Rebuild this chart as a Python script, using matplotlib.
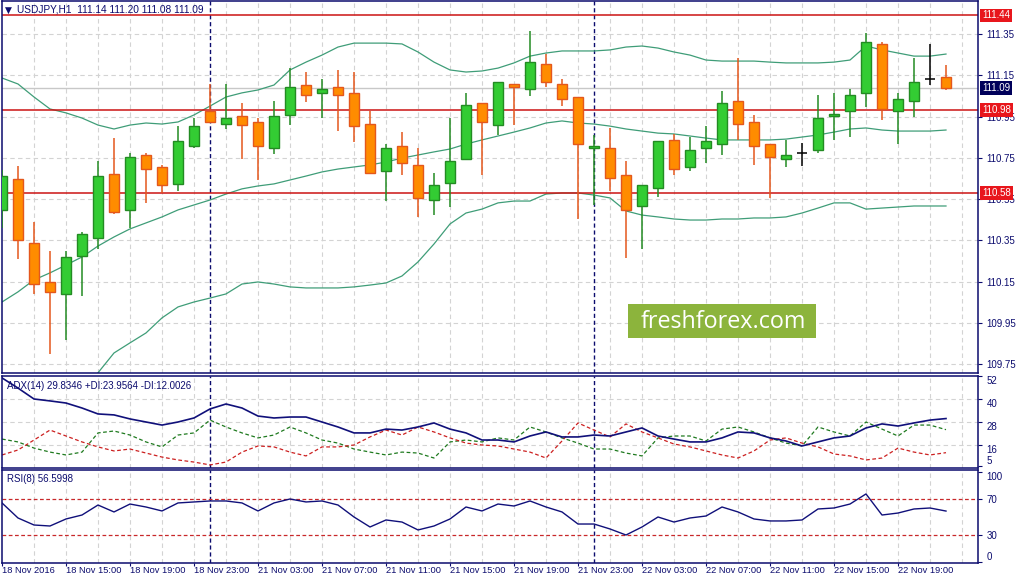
import numpy as np
import matplotlib
matplotlib.use('Agg')
import matplotlib.pyplot as plt
import matplotlib.transforms as mtransforms
from matplotlib.patches import Rectangle

plt.rcParams['font.family'] = ['Liberation Sans', 'DejaVu Sans']

# USDJPY H1, 18 Nov 2016 11:00 .. 22 Nov 2016 22:00
opens = [110.50, 110.65, 110.34, 110.15, 110.09, 110.275, 110.36, 110.67, 110.50, 110.765,
         110.705, 110.625, 110.81, 110.975, 110.915, 110.955, 110.925, 110.80, 110.96, 111.105,
         111.065, 111.095, 111.065, 110.915, 110.685, 110.81, 110.715, 110.545, 110.63, 110.745,
         111.015, 110.91, 111.11, 111.085, 111.205, 111.11, 111.045, 110.80, 110.80, 110.665,
         110.515, 110.605, 110.835, 110.705, 110.80, 110.815, 111.025, 110.925, 110.815, 110.745,
         110.775, 110.79, 110.955, 110.975, 111.065, 111.30, 110.975, 111.025, 111.13, 111.14]
highs = [110.69, 110.71, 110.44, 110.30, 110.30, 110.39, 110.735, 110.845, 110.775, 110.775,
         110.715, 110.905, 110.945, 111.11, 111.11, 111.015, 110.945, 111.025, 111.185, 111.165,
         111.13, 111.175, 111.165, 110.975, 110.815, 110.875, 110.80, 110.675, 110.945, 111.065,
         111.015, 111.12, 111.11, 111.365, 111.255, 111.13, 111.045, 110.86, 110.895, 110.735,
         110.62, 110.83, 110.865, 110.85, 110.905, 111.075, 111.235, 110.96, 110.815, 110.835,
         110.82, 111.055, 111.065, 111.085, 111.355, 111.31, 111.065, 111.235, 111.30, 111.20]
lows = [110.41, 110.26, 110.09, 109.80, 109.87, 110.08, 110.31, 110.48, 110.41, 110.53,
        110.58, 110.59, 110.80, 110.92, 110.89, 110.745, 110.645, 110.77, 110.91, 111.02,
        110.945, 110.88, 110.825, 110.675, 110.54, 110.665, 110.465, 110.475, 110.51, 110.745,
        110.665, 110.86, 110.91, 111.05, 111.095, 111.00, 110.455, 110.52, 110.59, 110.265,
        110.31, 110.56, 110.665, 110.685, 110.725, 110.765, 110.835, 110.715, 110.555, 110.705,
        110.71, 110.775, 110.835, 110.85, 110.995, 110.935, 110.815, 110.95, 111.105, 111.08]
closes = [110.66, 110.35, 110.14, 110.10, 110.27, 110.38, 110.66, 110.49, 110.755, 110.695,
          110.62, 110.83, 110.905, 110.925, 110.945, 110.91, 110.81, 110.955, 111.095, 111.055,
          111.085, 111.055, 110.905, 110.675, 110.80, 110.725, 110.555, 110.62, 110.735, 111.005,
          110.925, 111.12, 111.095, 111.215, 111.12, 111.035, 110.815, 110.81, 110.655, 110.50,
          110.62, 110.83, 110.695, 110.79, 110.83, 111.015, 110.915, 110.81, 110.755, 110.765,
          110.775, 110.945, 110.965, 111.055, 111.31, 110.985, 111.035, 111.12, 111.13, 111.09]

# Bollinger bands
bb_upper = [111.137, 111.108, 111.045, 110.987, 110.968, 110.943, 110.909, 110.890, 110.909, 110.919,
            110.914, 110.924, 110.958, 111.001, 111.045, 111.065, 111.079, 111.103, 111.176, 111.214,
            111.248, 111.287, 111.306, 111.306, 111.306, 111.302, 111.263, 111.214, 111.176, 111.166,
            111.171, 111.185, 111.210, 111.243, 111.258, 111.268, 111.268, 111.268, 111.273, 111.287,
            111.292, 111.282, 111.263, 111.248, 111.224, 111.219, 111.219, 111.219, 111.214, 111.210,
            111.210, 111.210, 111.214, 111.224, 111.292, 111.273, 111.258, 111.243, 111.243, 111.253]
bb_middle = [110.052, 110.101, 110.159, 110.193, 110.231, 110.270, 110.323, 110.367, 110.406, 110.435,
             110.464, 110.498, 110.522, 110.546, 110.575, 110.600, 110.614, 110.624, 110.643, 110.662,
             110.682, 110.696, 110.706, 110.716, 110.730, 110.749, 110.764, 110.779, 110.793, 110.817,
             110.837, 110.856, 110.875, 110.895, 110.919, 110.929, 110.919, 110.914, 110.904, 110.890,
             110.880, 110.870, 110.866, 110.856, 110.846, 110.837, 110.837, 110.837, 110.837, 110.841,
             110.851, 110.861, 110.875, 110.890, 110.895, 110.885, 110.880, 110.880, 110.880, 110.885]
bb_lower = [np.nan, np.nan, np.nan, np.nan, np.nan, np.nan, 109.709, 109.805, 109.854, 109.902,
            109.975, 110.028, 110.052, 110.071, 110.091, 110.139, 110.149, 110.139, 110.125, 110.120,
            110.120, 110.120, 110.125, 110.134, 110.144, 110.178, 110.246, 110.333, 110.430, 110.483,
            110.502, 110.532, 110.541, 110.541, 110.575, 110.580, 110.580, 110.570, 110.556, 110.493,
            110.473, 110.464, 110.454, 110.449, 110.449, 110.454, 110.454, 110.459, 110.459, 110.464,
            110.483, 110.507, 110.532, 110.532, 110.502, 110.507, 110.512, 110.517, 110.517, 110.517]

adx = [51.0, 45.7, 40.0, 39.0, 37.9, 35.3, 32.2, 31.7, 29.6, 28.0,
       26.4, 28.0, 30.1, 34.8, 37.4, 35.3, 31.1, 30.1, 30.6, 30.6,
       28.0, 25.4, 22.3, 22.3, 24.3, 23.8, 25.4, 27.5, 24.3, 22.3,
       18.6, 18.6, 17.6, 20.7, 22.8, 20.2, 20.2, 21.2, 20.7, 22.8,
       24.9, 20.7, 19.1, 17.6, 17.6, 19.7, 22.8, 22.3, 19.7, 18.1,
       15.5, 17.6, 19.7, 20.7, 24.9, 27.0, 25.9, 27.5, 29.0, 29.8]
plus_di = [19.1, 17.6, 14.4, 12.3, 10.8, 12.3, 22.3, 23.3, 21.2, 17.6,
           15.0, 21.2, 22.3, 29.0, 25.4, 22.3, 19.7, 21.2, 25.4, 22.3,
           18.6, 17.0, 13.9, 12.3, 10.8, 12.3, 11.8, 9.2, 17.6, 18.6,
           17.6, 19.7, 18.6, 25.4, 22.8, 19.7, 17.0, 13.9, 13.9, 11.8,
           10.3, 19.7, 20.7, 20.7, 18.1, 24.3, 25.4, 22.8, 19.7, 17.0,
           15.5, 25.4, 22.8, 20.7, 28.0, 24.3, 20.7, 26.4, 26.4, 24.0]
minus_di = [10.8, 13.4, 18.6, 23.8, 20.7, 17.6, 15.0, 12.9, 13.9, 11.8,
            9.7, 8.2, 7.1, 5.6, 7.1, 12.3, 15.5, 15.0, 12.3, 10.3,
            15.0, 15.0, 16.0, 20.2, 23.8, 21.2, 25.4, 22.8, 19.7, 17.0,
            16.0, 15.5, 13.9, 12.3, 9.2, 18.1, 27.5, 23.8, 20.2, 27.0,
            22.8, 19.7, 16.5, 15.0, 12.9, 10.8, 9.2, 12.9, 18.6, 19.7,
            17.0, 15.0, 11.3, 10.3, 8.2, 9.2, 14.4, 12.3, 10.8, 12.0]
rsi = [65.6, 48.9, 41.1, 40.0, 47.8, 52.2, 63.3, 55.6, 64.4, 61.1,
       56.7, 65.6, 66.7, 67.8, 67.8, 65.6, 56.7, 65.6, 70.0, 66.7,
       67.8, 63.3, 50.0, 38.9, 46.7, 44.4, 35.6, 40.0, 47.8, 61.1,
       56.7, 64.4, 62.2, 67.8, 61.1, 55.6, 42.2, 42.2, 36.7, 30.0,
       38.9, 50.0, 44.4, 48.9, 51.1, 61.1, 55.6, 47.8, 45.6, 45.6,
       46.7, 58.9, 60.0, 64.4, 75.6, 52.2, 54.4, 58.9, 60.0, 56.6]

time_labels = ['18 Nov 2016', '18 Nov 15:00', '18 Nov 19:00', '18 Nov 23:00', '21 Nov 03:00',
               '21 Nov 07:00', '21 Nov 11:00', '21 Nov 15:00', '21 Nov 19:00', '21 Nov 23:00',
               '22 Nov 03:00', '22 Nov 07:00', '22 Nov 11:00', '22 Nov 15:00', '22 Nov 19:00']
day_breaks = [13, 37]
price_ticks = [109.75, 109.95, 110.15, 110.35, 110.55, 110.75, 110.95, 111.15, 111.35]
levels = [111.44, 110.98, 110.58]
last_price = 111.09

navy = '#0c0c6e'
grid_c = '#d3d3d3'
W, H = 1021, 575

fig = plt.figure(figsize=(W / 100, H / 100), dpi=100)
fig.patch.set_facecolor('white')

def box(top, bottom):
    return [2 / W, 1 - bottom / H, 976 / W, (bottom - top) / H]

ax = fig.add_axes(box(1, 373))
ax_adx = fig.add_axes(box(376, 468), sharex=ax)
ax_rsi = fig.add_axes(box(470, 563), sharex=ax)

x = np.arange(len(opens))
o = np.array(opens); h = np.array(highs); l = np.array(lows); c = np.array(closes)

for a in (ax, ax_adx, ax_rsi):
    for s in a.spines.values():
        s.set_color(navy)
        s.set_linewidth(1.1)
    for xv in range(2, 62, 2):
        a.axvline(xv, color=grid_c, ls=(0, (4, 3)), lw=0.8, zorder=0)
    for d in day_breaks:
        a.axvline(d, color=navy, ls=(0, (3, 2)), lw=1.0, zorder=1)
    a.yaxis.tick_right()
    a.tick_params(axis='y', colors=navy, labelsize=7, length=3, pad=3, direction='out')
    a.tick_params(axis='x', colors=navy, length=0)
    a.set_facecolor('white')

ax.set_xlim(0, 61)

# main price panel
for p in price_ticks:
    ax.axhline(p, color=grid_c, ls=(0, (4, 3)), lw=0.8, zorder=0)
ax.set_yticks(price_ticks)
ax.set_yticklabels(['%.2f' % p for p in price_ticks])
ax.set_ylim(109.708, 111.51)

ax.plot(x, bb_upper, color='#3f9d78', lw=0.9, zorder=2)
ax.plot(x, bb_middle, color='#3f9d78', lw=0.9, zorder=2)
ax.plot(x, bb_lower, color='#3f9d78', lw=0.9, zorder=2)

for lv in levels:
    ax.axhline(lv, color='#cc1414', lw=1.1, zorder=2)
ax.axhline(last_price, color='#c8c8c8', lw=1.0, zorder=1)

up = c > o
dn = c < o
fl = c == o
bw = 0.62
ax.vlines(x[up], l[up], h[up], color='#238b23', lw=1.1, zorder=3)
ax.bar(x[up], (c - o)[up], bottom=o[up], width=bw, color='#33cc33',
       edgecolor='#238b23', lw=1.0, zorder=4)
ax.vlines(x[dn], l[dn], h[dn], color='#e4571c', lw=1.1, zorder=3)
ax.bar(x[dn], (o - c)[dn], bottom=c[dn], width=bw, color='#ff8c00',
       edgecolor='#e4571c', lw=1.0, zorder=4)
ax.vlines(x[fl], l[fl], h[fl], color='black', lw=1.1, zorder=3)
ax.hlines(o[fl], x[fl] - bw / 2, x[fl] + bw / 2, color='black', lw=1.1, zorder=4)

tr = mtransforms.blended_transform_factory(ax.transAxes, ax.transData)
for lv in levels:
    ax.text(1.004, lv, '%.2f' % lv, transform=tr, ha='left', va='center', color='white',
            fontsize=7, zorder=10, clip_on=False,
            bbox=dict(boxstyle='square,pad=0.2', fc='#e8161c', ec='none'))
ax.text(1.004, last_price, '%.2f' % last_price, transform=tr, ha='left', va='center',
        color='white', fontsize=7, zorder=10, clip_on=False,
        bbox=dict(boxstyle='square,pad=0.2', fc='#00005a', ec='none'))

fig.text(8 / W, 1 - 10 / H, '\u25bc', family='DejaVu Sans', fontsize=6.5, color=navy,
         ha='center', va='center')
fig.text(17 / W, 1 - 10 / H, 'USDJPY,H1  111.14 111.20 111.08 111.09', fontsize=7.3,
         color=navy, ha='left', va='center')

# watermark
fig.add_artist(Rectangle((628 / W, 1 - 338 / H), 188 / W, 34 / H, transform=fig.transFigure,
                         facecolor='#8cb43c', edgecolor='none', zorder=5))
fig.text(723 / W, 1 - 322 / H, 'freshforex.com', family='Open Sans', fontsize=16.8,
         color='white', ha='center', va='center', zorder=6)

# ADX panel
for g in (40, 28, 16):
    ax_adx.axhline(g, color=grid_c, ls=(0, (4, 3)), lw=0.8, zorder=0)
ax_adx.plot(x, adx, color='#10107a', lw=1.2, zorder=3)
ax_adx.plot(x, plus_di, color='#1f7a1f', lw=0.9, ls=(0, (3, 2)), zorder=2)
ax_adx.plot(x, minus_di, color='#cc2020', lw=0.9, ls=(0, (3, 2)), zorder=2)
ax_adx.set_ylim(4.0, 52.0)
ax_adx.set_yticks([52, 40, 28, 16, 5])
ax_adx.set_yticklabels(['52', '40', '28', '16', '5'])
for lab in ax_adx.get_yticklabels()[:4]:
    lab.set_verticalalignment('top')
ax_adx.get_yticklabels()[4].set_verticalalignment('bottom')
ax_adx.text(0.005, 0.89, 'ADX(14) 29.8346 +DI:23.9564 -DI:12.0026', transform=ax_adx.transAxes,
            fontsize=7, color=navy, ha='left', va='center')

# RSI panel
for lv in (70, 30):
    ax_rsi.axhline(lv, color='#c8282a', ls=(0, (3, 2)), lw=0.9, zorder=1)
ax_rsi.plot(x, rsi, color='#10107a', lw=1.0, zorder=3)
ax_rsi.set_ylim(-1.1, 102.2)
ax_rsi.set_yticks([100, 70, 30, 0])
ax_rsi.set_yticklabels(['100', '70', '30', '0'])
ax_rsi.get_yticklabels()[0].set_verticalalignment('top')
ax_rsi.get_yticklabels()[3].set_verticalalignment('bottom')
ax_rsi.text(0.005, 0.90, 'RSI(8) 56.5998', transform=ax_rsi.transAxes,
            fontsize=7, color=navy, ha='left', va='center')

plt.setp(ax.get_xticklabels(), visible=False)
plt.setp(ax_adx.get_xticklabels(), visible=False)
ax_rsi.set_xticks(range(0, 60, 4))
ax_rsi.set_xticklabels(time_labels)
ax_rsi.tick_params(axis='x', length=2, pad=0, labelsize=6.7, colors=navy, direction='out')
ax.tick_params(axis='x', length=0)
ax_adx.tick_params(axis='x', length=0)
for lab in ax_rsi.get_xticklabels():
    lab.set_horizontalalignment('left')

fig.savefig('out.png', dpi=100, facecolor='white')
